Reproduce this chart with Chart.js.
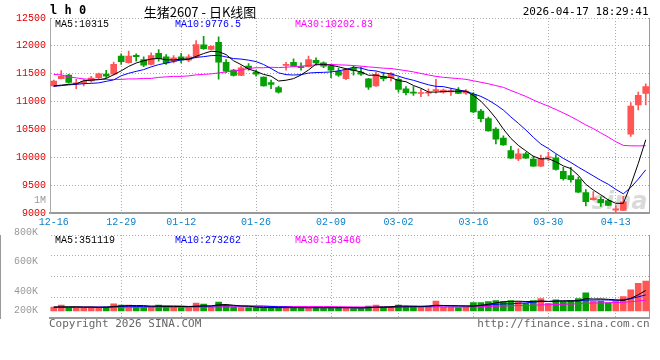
<!DOCTYPE html>
<html lang="zh-CN">
<head>
  <meta charset="UTF-8">
  <title>生猪2607 - 日K线图</title>
  <script src="https://cdn.jsdelivr.net/npm/chart.js"></script>
  <style>
    html, body { margin: 0; padding: 0; background: #fff; }
    #wrap { position: relative; width: 660px; height: 360px; overflow: hidden; }
    canvas { position: absolute; left: 0; }
    #kline { top: 0; }
    #vol { top: 225px; }
  </style>
</head>
<body>
  <div id="wrap">
    <canvas id="kline" width="660" height="232"></canvas>
    <canvas id="vol" width="660" height="135"></canvas>
  </div>

  <script>
    // trading days shown on the chart
    const dates = [
      '12-16', '12-17', '12-18', '12-19', '12-22', '12-23', '12-24', '12-25', '12-26', '12-29',
      '12-30', '12-31', '01-05', '01-06', '01-07', '01-08', '01-09', '01-12', '01-13', '01-14',
      '01-15', '01-16', '01-19', '01-20', '01-21', '01-22', '01-23', '01-26', '01-27', '01-28',
      '01-29', '01-30', '02-02', '02-03', '02-04', '02-05', '02-06', '02-09', '02-10', '02-11',
      '02-12', '02-13', '02-24', '02-25', '02-26', '02-27', '03-02', '03-03', '03-04', '03-05',
      '03-06', '03-09', '03-10', '03-11', '03-12', '03-13', '03-16', '03-17', '03-18', '03-19',
      '03-20', '03-23', '03-24', '03-25', '03-26', '03-27', '03-30', '03-31', '04-01', '04-02',
      '04-03', '04-07', '04-08', '04-09', '04-10', '04-13', '04-14', '04-15', '04-16', '04-17'
    ];
    const tickDates = ['12-16', '12-29', '01-12', '01-26', '02-09', '03-02', '03-16', '03-30', '04-13'];

    const open = [
      11280, 11410, 11475, 11320, 11325, 11370, 11430, 11495, 11490, 11815,
      11700, 11830, 11755, 11665, 11865, 11805, 11725, 11805, 11745, 11805,
      12020, 11935, 12065, 11705, 11565, 11470, 11635, 11530, 11440, 11340,
      11250, 11650, 11705, 11625, 11625, 11740, 11695, 11635, 11545, 11410,
      11595, 11530, 11410, 11280, 11455, 11430, 11400, 11230, 11170, 11145,
      11150, 11195, 11170, 11175, 11200, 11150, 11130, 10830, 10695, 10505,
      10345, 10120, 9970, 10060, 9970, 9840, 9990, 9990, 9750, 9670,
      9600, 9365, 9240, 9245, 9225, 9050, 9045, 10415, 10940, 11145
    ];
    const high = [
      11385, 11555, 11490, 11400, 11400, 11455, 11510, 11560, 11710, 11855,
      11905, 11855, 11805, 11875, 11935, 11845, 11825, 11865, 11845, 12095,
      12170, 12000, 12160, 11755, 11580, 11635, 11680, 11565, 11445, 11385,
      11280, 11705, 11765, 11695, 11815, 11785, 11715, 11665, 11600, 11590,
      11640, 11620, 11415, 11530, 11520, 11520, 11430, 11270, 11270, 11220,
      11230, 11400, 11225, 11235, 11250, 11215, 11160, 10860, 10720, 10535,
      10385, 10195, 10150, 10090, 10020, 10040, 10090, 10050, 9820, 9820,
      9645, 9420, 9385, 9290, 9250, 9135, 9300, 10980, 11170, 11320
    ];
    const low = [
      11270, 11405, 11330, 11232, 11280, 11350, 11410, 11430, 11480, 11665,
      11690, 11725, 11625, 11660, 11725, 11665, 11695, 11695, 11715, 11785,
      11935, 11925, 11400, 11520, 11455, 11465, 11565, 11455, 11275, 11232,
      11150, 11565, 11630, 11565, 11620, 11655, 11610, 11430, 11450, 11395,
      11475, 11470, 11220, 11270, 11370, 11370, 11170, 11120, 11110, 11090,
      11100, 11150, 11150, 11110, 11140, 11130, 10800, 10635, 10470, 10240,
      10215, 9980, 9940, 9980, 9835, 9830, 9940, 9770, 9590, 9555,
      9365, 9125, 9230, 9120, 9130, 9000, 9040, 10375, 10850, 10940
    ];
    const close = [
      11370, 11455, 11345, 11335, 11365, 11420, 11500, 11455, 11670, 11715,
      11815, 11805, 11655, 11825, 11770, 11695, 11785, 11745, 11805, 12025,
      11950, 11990, 11705, 11545, 11470, 11605, 11595, 11490, 11280, 11310,
      11170, 11665, 11635, 11610, 11755, 11695, 11635, 11565, 11475, 11575,
      11560, 11490, 11260, 11490, 11410, 11505, 11220, 11160, 11150, 11160,
      11165, 11215, 11205, 11190, 11145, 11190, 10815, 10695, 10475, 10325,
      10220, 9985, 10060, 9985, 9840, 9980, 10010, 9780, 9615, 9600,
      9375, 9205, 9270, 9185, 9135, 9075, 9200, 10920, 11110, 11270
    ];
    const volume = [
      66000, 99000, 55000, 55000, 55000, 66000, 66000, 66000, 121000, 99000,
      99000, 66000, 66000, 66000, 99000, 82000, 66000, 55000, 55000, 132000,
      116000, 66000, 149000, 82000, 66000, 55000, 55000, 55000, 55000, 55000,
      55000, 55000, 55000, 55000, 55000, 55000, 55000, 55000, 55000, 55000,
      40000, 40000, 82000, 99000, 66000, 66000, 99000, 82000, 82000, 66000,
      82000, 165000, 66000, 66000, 55000, 66000, 140000, 140000, 158000, 175000,
      158000, 175000, 158000, 130000, 175000, 208000, 130000, 190000, 158000, 175000,
      208000, 308000, 165000, 165000, 137000, 165000, 242000, 358000, 468000, 508000
    ];

    // moving average values at the left edge (window reaches before 12-16)
    const ma5Head = [11282, 11295, 11309, 11318];
    const ma10Head = [11273, 11286, 11300, 11309, 11321, 11327, 11336, 11363, 11389];
    const ma30Head = [
      11488, 11479, 11443, 11425, 11407, 11398, 11398, 11398, 11398, 11398,
      11407, 11407, 11416, 11416, 11434, 11443, 11452, 11452, 11461, 11479,
      11488, 11497, 11514, 11532, 11550, 11564, 11595, 11607, 11607
    ];
    const volMa5Head = [66000, 68000, 70000, 70000];
    const volMa10Head = [62000, 62000, 63000, 63000, 64000, 64000, 65000, 66000, 68000];
    const volMa30Head = [
      58000, 58000, 58000, 59000, 59000, 59000, 60000, 60000, 60000, 60000,
      61000, 61000, 61000, 62000, 62000, 62000, 63000, 63000, 64000, 64000,
      65000, 66000, 67000, 68000, 69000, 70000, 71000, 72000, 73000
    ];

    const priceLegend = [['MA5:10315', '#000000'], ['MA10:9776.5', '#0000ff'], ['MA30:10202.83', '#ff00ff']];
    const volLegend = [['MA5:351119', '#000000'], ['MA10:273262', '#0000ff'], ['MA30:183466', '#ff00ff']];
    const volTickValues = [0, 333000, 845000, 1333000];
    const volTickLabels = ['200K', '400K', '600K', '800K'];

    const UP = '#ff5555';
    const DOWN = '#06a006';
    const GRID = '#aaaaaa';
    const EDGE = '#999999';
    const MONO = "'Liberation Mono', 'DejaVu Sans Mono', monospace";

    function movingAverage(values, period, head) {
      return values.map((v, i) => {
        if (i < period - 1) return head[i];
        let sum = 0;
        for (let j = i - period + 1; j <= i; j++) sum += values[j];
        return sum / period;
      });
    }

    const candleColors = close.map((c, i) => c >= open[i] ? UP : DOWN);
    const tickIdx = dates.map((d, i) => tickDates.includes(d) ? i : -1).filter(i => i > 0);

    Chart.defaults.font.family = MONO;
    Chart.defaults.font.size = 10;
    Chart.defaults.devicePixelRatio = 1;

    const xGrid = {
      offset: false,
      drawTicks: false,
      color: ctx => tickIdx.includes(ctx.index) ? GRID : 'transparent'
    };

    function lineSet(label, data, color) {
      return {
        type: 'line', label, data,
        borderColor: color, borderWidth: 1,
        pointRadius: 0, fill: false, tension: 0, order: 0
      };
    }

    const headerText = {
      id: 'headerText',
      beforeDatasetsDraw(chart) {
        const ctx = chart.ctx, a = chart.chartArea;
        ctx.save();
        ctx.font = "italic bold 24px 'DejaVu Sans'";
        ctx.fillStyle = 'rgba(150,150,150,0.35)';
        ctx.textAlign = 'right';
        ctx.textBaseline = 'alphabetic';
        ctx.fillText('sina', a.right - 2, a.bottom - 4);
        ctx.restore();
      },
      afterDraw(chart) {
        const ctx = chart.ctx, a = chart.chartArea;
        ctx.save();
        ctx.textBaseline = 'middle';
        ctx.fillStyle = '#000';
        ctx.textAlign = 'left';
        ctx.font = "bold 12px 'DejaVu Sans Mono'";
        ctx.fillText('l h 0', a.left, 11);
        ctx.textAlign = 'center';
        ctx.font = "13px 'Noto Sans CJK SC'";
        ctx.fillText('生猪2607 - 日K线图', 200, 12);
        ctx.textAlign = 'right';
        ctx.font = "11px 'DejaVu Sans Mono'";
        ctx.fillText('2026-04-17 18:29:41', a.right - 1, 12);
        ctx.textAlign = 'left';
        ctx.font = '10px ' + MONO;
        priceLegend.forEach(([t, c], i) => {
          ctx.fillStyle = c;
          ctx.fillText(t, a.left + 5 + i * 120, a.top + 6);
        });
        ctx.fillStyle = EDGE;
        ctx.textAlign = 'right';
        ctx.fillText('1M', a.left - 4, a.bottom - 13);
        ctx.restore();
      }
    };

    new Chart(document.getElementById('kline'), {
      type: 'bar',
      data: {
        labels: dates,
        datasets: [
          lineSet('MA5', movingAverage(close, 5, ma5Head), '#000000'),
          lineSet('MA10', movingAverage(close, 10, ma10Head), '#0000ff'),
          lineSet('MA30', movingAverage(close, 30, ma30Head), '#ff00ff'),
          {
            label: 'body',
            data: open.map((o, i) => [o, close[i]]),
            backgroundColor: candleColors,
            barThickness: 6,
            minBarLength: 1,
            grouped: false,
            order: 2
          },
          {
            label: 'wick',
            data: low.map((l, i) => [l, high[i]]),
            backgroundColor: candleColors,
            barThickness: 1,
            grouped: false,
            order: 3
          }
        ]
      },
      options: {
        responsive: false,
        animation: false,
        layout: { padding: { left: 0, right: 10.5, top: 18, bottom: 0 } },
        plugins: { legend: { display: false }, tooltip: { enabled: false } },
        scales: {
          x: {
            offset: true,
            grid: xGrid,
            border: { display: true, color: EDGE, width: 2, dash: [1, 2] },
            ticks: {
              autoSkip: false,
              maxRotation: 0,
              padding: 3,
              color: '#0a82cc',
              callback: (v, i) => tickDates.includes(dates[i]) ? dates[i] : ''
            },
            afterFit: s => { s.height = 19; }
          },
          y: {
            position: 'left',
            min: 9000,
            max: 12500,
            ticks: { stepSize: 500, color: '#e00000', padding: 4, callback: v => String(v) },
            grid: { color: GRID, drawTicks: false },
            border: { display: true, color: GRID, dash: [1, 2] },
            afterFit: s => { s.width = 50; }
          },
          yr: {
            position: 'right',
            ticks: { display: false },
            grid: { display: false },
            border: { display: true, color: EDGE, width: 1 },
            afterFit: s => { s.width = 0; }
          }
        }
      },
      plugins: [headerText]
    });

    const volText = {
      id: 'volText',
      afterDraw(chart) {
        const ctx = chart.ctx, a = chart.chartArea;
        ctx.save();
        ctx.textBaseline = 'middle';
        ctx.textAlign = 'left';
        ctx.font = '10px ' + MONO;
        volLegend.forEach(([t, c], i) => {
          ctx.fillStyle = c;
          ctx.fillText(t, a.left + 5 + i * 120, a.top + 5);
        });
        ctx.fillStyle = '#666';
        ctx.font = "11px 'DejaVu Sans Mono'";
        ctx.fillText('Copyright 2026 SINA.COM', a.left - 1, a.bottom + 6);
        ctx.textAlign = 'right';
        ctx.fillText('http://finance.sina.com.cn', a.right, a.bottom + 6);
        ctx.restore();
      }
    };

    new Chart(document.getElementById('vol'), {
      type: 'bar',
      data: {
        labels: dates,
        datasets: [
          lineSet('MA5', movingAverage(volume, 5, volMa5Head), '#000000'),
          lineSet('MA10', movingAverage(volume, 10, volMa10Head), '#0000ff'),
          lineSet('MA30', movingAverage(volume, 30, volMa30Head), '#ff00ff'),
          {
            label: 'volume',
            data: volume,
            backgroundColor: candleColors,
            barThickness: 6,
            order: 2
          }
        ]
      },
      options: {
        responsive: false,
        animation: false,
        layout: { padding: { left: 0, right: 10.5, top: 8, bottom: 0 } },
        plugins: { legend: { display: false }, tooltip: { enabled: false } },
        scales: {
          x: {
            offset: true,
            grid: xGrid,
            border: { display: true, color: EDGE, width: 2, dash: [1, 2] },
            ticks: { display: false, autoSkip: false },
            afterFit: s => { s.height = 42; }
          },
          y: {
            position: 'left',
            min: -122000,
            max: 1295000,
            afterBuildTicks: s => { s.ticks = volTickValues.map(v => ({ value: v })); },
            ticks: { color: EDGE, padding: 4, autoSkip: false, callback: (v, i) => volTickLabels[i] },
            grid: { display: false },
            border: { display: false },
            afterFit: s => { s.width = 50; }
          },
          yg: {
            position: 'left',
            min: 0,
            max: 4,
            ticks: { display: false, stepSize: 1 },
            grid: { color: GRID, drawTicks: false },
            border: { display: true, color: EDGE, dash: [1, 2] },
            afterFit: s => { s.width = 0; }
          },
          yr: {
            position: 'right',
            ticks: { display: false },
            grid: { display: false },
            border: { display: true, color: EDGE, width: 1 },
            afterFit: s => { s.width = 0; }
          }
        }
      },
      plugins: [volText]
    });
  </script>
</body>
</html>
